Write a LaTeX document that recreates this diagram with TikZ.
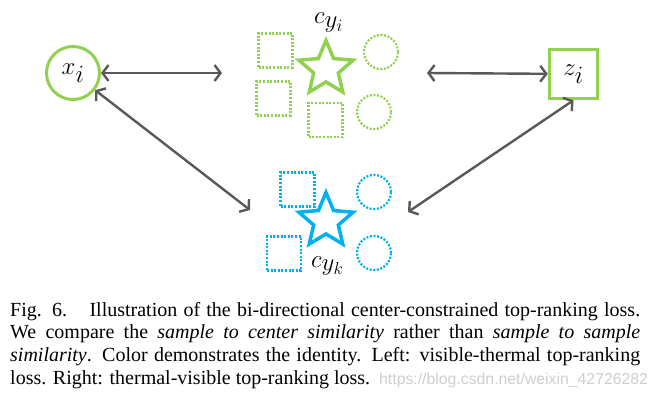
\documentclass[tikz,border=0pt]{standalone}
\usepackage{fontspec}
\newfontfamily\capfont{Liberation Serif}
\newfontfamily\wmfont{Liberation Sans}
\usetikzlibrary{arrows.meta,shapes.geometric}
\definecolor{grn}{HTML}{92D050}
\definecolor{blu}{HTML}{00B0F0}
\definecolor{arr}{HTML}{595959}
\definecolor{wmgray}{HTML}{CFCFCF}
\begin{document}
\begin{tikzpicture}[x=1pt,y=-1pt,
  mathlbl/.style={font=\fontsize{33}{38}\selectfont},
  conn/.style={draw=arr, line width=2.4pt, {Straight Barb[length=6pt,width=16pt]}-{Straight Barb[length=6pt,width=16pt]}},
  dotsq/.style={draw=#1, line width=2.2pt, dash pattern=on 2pt off 1.6pt, minimum size=34pt, inner sep=0, rectangle},
  dotci/.style={draw=#1, line width=2.2pt, dash pattern=on 2pt off 1.6pt, minimum size=34pt, inner sep=0, circle},
  cstar/.style={draw=#1, line width=3.5pt, star, star points=5, star point ratio=2.2, minimum size=57pt, inner sep=0},
]
\useasboundingbox[fill=white] (0,0) rectangle (659,401);

% sample nodes
\node[circle, draw=grn, line width=3pt, minimum size=53pt, inner sep=0, mathlbl] (xi) at (73,73) {$x_i$};
\node[rectangle, draw=grn, line width=3.5pt, minimum width=48pt, minimum height=49pt, inner sep=0, mathlbl] (zi) at (573.5,74) {$z_i$};

% green cluster
\node[dotsq=grn] (gs1) at (275.5,50.5) {};
\node[dotsq=grn] (gs2) at (273.5,98.5) {};
\node[dotsq=grn] (gs3) at (325.5,120) {};
\node[dotci=grn] (gc1) at (381,52) {};
\node[dotci=grn] (gc2) at (374,112) {};
\node[cstar=grn] (gstar) at (326,69) {};
\node[mathlbl, anchor=base west, inner sep=0] (cyi) at (314,24) {$c_{y_i}$};

% blue cluster
\node[dotsq=blu] (bs1) at (297.5,189.5) {};
\node[dotsq=blu] (bs2) at (284,253.5) {};
\node[dotci=blu] (bc1) at (374,192) {};
\node[dotci=blu] (bc2) at (374,253) {};
\node[cstar=blu] (bstar) at (326,221) {};
\node[mathlbl, anchor=base west, inner sep=0] (cyk) at (311,267) {$c_{y_k}$};

% connector free ends
\coordinate (e1) at (222,73);
\coordinate (e2) at (427,73);
\coordinate (e3) at (250,210);
\coordinate (e4) at (408,212);

\draw[conn] (xi) -- (e1);
\draw[conn] (e2) -- (zi);
\draw[conn] (xi) -- (e3);
\draw[conn] (e4) -- (zi.south);

% caption (base anchor = baseline of the last line)
\node[anchor=base west, inner sep=0, align=left, font=\capfont\fontsize{20}{22.8}\selectfont] (cap) at (10,384.5)
{\makebox[630pt][s]{Fig. 6.\hspace{0.6em} Illustration of the bi-directional center-constrained top-ranking loss.}\\
\makebox[630pt][s]{We compare the \textit{sample to center similarity} rather than \textit{sample to sample}}\\
\makebox[630pt][s]{\textit{similarity}. Color demonstrates the identity. Left: visible-thermal top-ranking}\\
loss. Right: thermal-visible top-ranking loss.};
\node[anchor=base west, inner sep=0, font=\wmfont\fontsize{15.8}{18}\selectfont, text=wmgray] (wm) at (379,384.5) {https://blog.csdn.net/weixin\_42726282};
\end{tikzpicture}
\end{document}
